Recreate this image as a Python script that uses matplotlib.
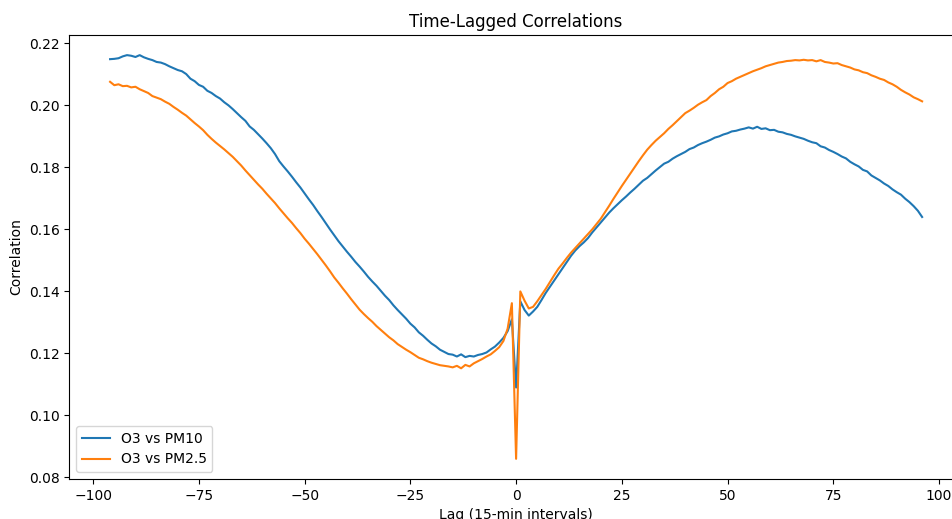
import matplotlib
matplotlib.use("Agg")
import matplotlib.pyplot as plt
import numpy as np

# lags in 15-minute steps
lags = list(range(-96, 97))

# O3 vs PM10, lag -96 .. 96
o3_pm10 = [
    0.2149, 0.2150, 0.2152, 0.2158, 0.2162, 0.2160, 0.2156, 0.2162, 0.2155, 0.2150,
    0.2146, 0.2140, 0.2138, 0.2133, 0.2126, 0.2120, 0.2114, 0.2110, 0.2101, 0.2086,
    0.2078, 0.2066, 0.2060, 0.2047, 0.2040, 0.2030, 0.2022, 0.2010, 0.2000, 0.1988,
    0.1975, 0.1962, 0.1950, 0.1932, 0.1921, 0.1907, 0.1893, 0.1878, 0.1862, 0.1843,
    0.1820, 0.1803, 0.1787, 0.1770, 0.1752, 0.1735, 0.1716, 0.1697, 0.1679, 0.1659,
    0.1640, 0.1620, 0.1600, 0.1581, 0.1562, 0.1545, 0.1528, 0.1512, 0.1495, 0.1480,
    0.1464, 0.1447, 0.1432, 0.1418, 0.1402, 0.1386, 0.1372, 0.1355, 0.1340, 0.1326,
    0.1312, 0.1296, 0.1284, 0.1268, 0.1257, 0.1244, 0.1232, 0.1223, 0.1212, 0.1205,
    0.1198, 0.1196, 0.1190, 0.1197, 0.1188, 0.1192, 0.1190, 0.1195, 0.1198, 0.1203,
    0.1213, 0.1222, 0.1235, 0.1250, 0.1272, 0.1310, 0.1090, 0.1368, 0.1340, 0.1322,
    0.1335, 0.1350, 0.1372, 0.1395, 0.1415, 0.1435, 0.1455, 0.1475, 0.1495, 0.1515,
    0.1532, 0.1546, 0.1558, 0.1572, 0.1590, 0.1606, 0.1622, 0.1638, 0.1654, 0.1668,
    0.1681, 0.1694, 0.1706, 0.1719, 0.1731, 0.1744, 0.1757, 0.1766, 0.1778, 0.1790,
    0.1801, 0.1812, 0.1818, 0.1828, 0.1836, 0.1843, 0.1850, 0.1859, 0.1864, 0.1872,
    0.1878, 0.1883, 0.1889, 0.1896, 0.1900, 0.1906, 0.1910, 0.1916, 0.1918, 0.1922,
    0.1925, 0.1929, 0.1925, 0.1931, 0.1924, 0.1926, 0.1920, 0.1921, 0.1915, 0.1913,
    0.1908, 0.1905, 0.1900, 0.1896, 0.1892, 0.1886, 0.1881, 0.1878, 0.1868, 0.1864,
    0.1856, 0.1850, 0.1843, 0.1835, 0.1829, 0.1818, 0.1810, 0.1803, 0.1792, 0.1787,
    0.1774, 0.1766, 0.1758, 0.1748, 0.1740, 0.1729, 0.1720, 0.1712, 0.1699, 0.1688,
    0.1675, 0.1660, 0.1640,
]

# O3 vs PM2.5, lag -96 .. 96
o3_pm25 = [
    0.2076, 0.2065, 0.2068, 0.2062, 0.2063, 0.2058, 0.2060, 0.2052, 0.2046, 0.2040,
    0.2030, 0.2025, 0.2020, 0.2012, 0.2005, 0.1995, 0.1986, 0.1976, 0.1967, 0.1955,
    0.1943, 0.1932, 0.1920, 0.1905, 0.1892, 0.1880, 0.1869, 0.1858, 0.1846, 0.1834,
    0.1820, 0.1806, 0.1790, 0.1775, 0.1760, 0.1745, 0.1731, 0.1715, 0.1700, 0.1685,
    0.1668, 0.1652, 0.1636, 0.1621, 0.1604, 0.1588, 0.1570, 0.1554, 0.1537, 0.1520,
    0.1502, 0.1484, 0.1465, 0.1445, 0.1428, 0.1410, 0.1393, 0.1375, 0.1358, 0.1341,
    0.1327, 0.1314, 0.1302, 0.1288, 0.1276, 0.1264, 0.1252, 0.1242, 0.1230, 0.1221,
    0.1212, 0.1204, 0.1195, 0.1186, 0.1181, 0.1175, 0.1170, 0.1166, 0.1162, 0.1160,
    0.1158, 0.1155, 0.1160, 0.1152, 0.1163, 0.1158, 0.1168, 0.1175, 0.1182, 0.1190,
    0.1197, 0.1208, 0.1220, 0.1240, 0.1280, 0.1362, 0.0860, 0.1400, 0.1370, 0.1345,
    0.1350, 0.1368, 0.1388, 0.1408, 0.1430, 0.1452, 0.1473, 0.1490, 0.1508, 0.1525,
    0.1540, 0.1555, 0.1570, 0.1585, 0.1600, 0.1617, 0.1634, 0.1655, 0.1676, 0.1698,
    0.1719, 0.1740, 0.1760, 0.1780, 0.1800, 0.1820, 0.1839, 0.1857, 0.1872, 0.1886,
    0.1898, 0.1910, 0.1924, 0.1936, 0.1949, 0.1962, 0.1975, 0.1983, 0.1992, 0.2002,
    0.2010, 0.2017, 0.2030, 0.2040, 0.2052, 0.2060, 0.2072, 0.2078, 0.2086, 0.2092,
    0.2098, 0.2104, 0.2110, 0.2115, 0.2120, 0.2126, 0.2130, 0.2134, 0.2138, 0.2140,
    0.2143, 0.2144, 0.2146, 0.2145, 0.2147, 0.2145, 0.2146, 0.2142, 0.2146, 0.2140,
    0.2138, 0.2135, 0.2136, 0.2130, 0.2126, 0.2122, 0.2116, 0.2113, 0.2107, 0.2104,
    0.2097, 0.2092, 0.2086, 0.2082, 0.2074, 0.2068, 0.2060, 0.2050, 0.2042, 0.2035,
    0.2026, 0.2020, 0.2013,
]

if __name__ == "__main__":
    fig = plt.figure(figsize=(9.53, 5.19), dpi=100)
    # the reference is cropped on the right and bottom, so the axes run past the edge
    ax = fig.add_axes([0.0729, 0.0771, 0.9373, 0.8555])
    ax.plot(lags, o3_pm10, color="tab:blue", label="O3 vs PM10")
    ax.plot(lags, o3_pm25, color="tab:orange", label="O3 vs PM2.5")
    ax.set_xlim(-105.6, 105.6)
    ax.set_ylim(0.0795, 0.2227)
    ax.set_yticks(np.arange(0.08, 0.221, 0.02))
    ax.set_title("Time-Lagged Correlations")
    ax.set_xlabel("Lag (15-min intervals)")
    ax.set_ylabel("Correlation")
    ax.legend(loc="lower left")
    fig.savefig("out.png", dpi=100)
